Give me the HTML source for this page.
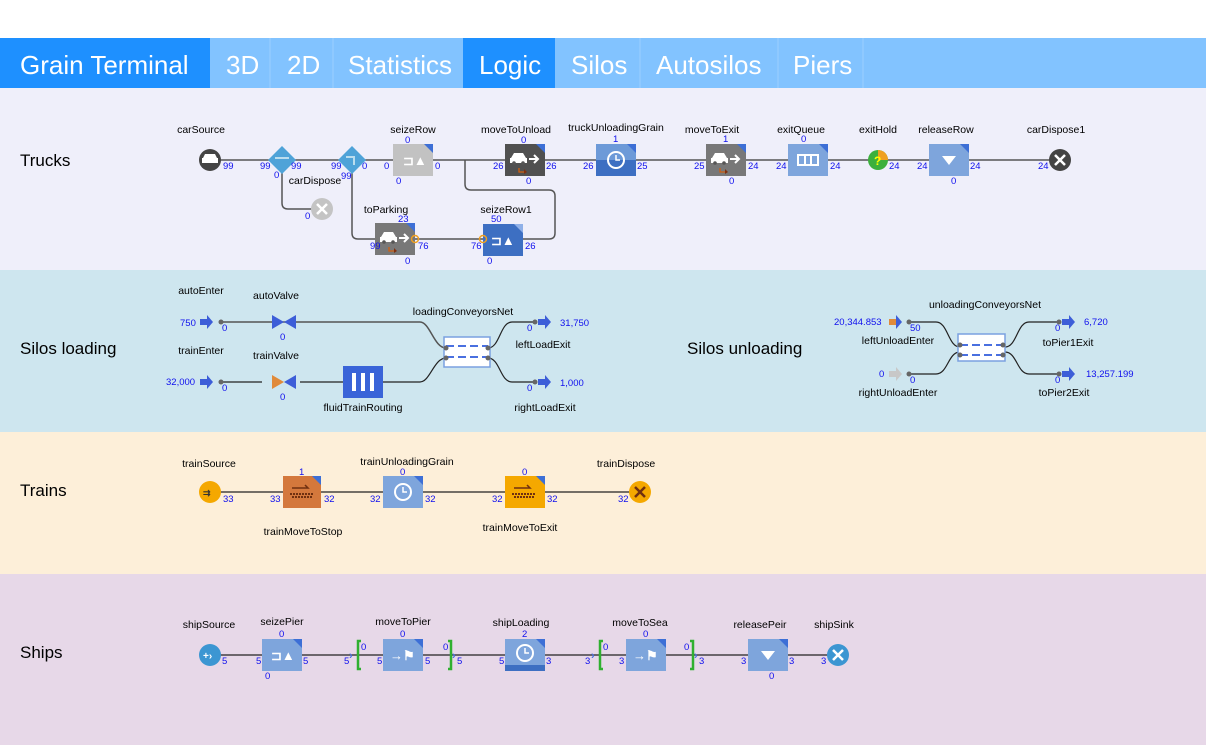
<!DOCTYPE html>
<html><head><meta charset="utf-8"><style>
html,body{margin:0;padding:0;background:#fff;}
svg{display:block;font-family:"Liberation Sans",Arial,sans-serif;}
.l{font-size:10.5px;fill:#000;text-anchor:middle}
.n{font-size:9.5px;fill:#1010ee}
.s{font-size:17px;fill:#000}
.t{font-size:26px;fill:#fff}
.w{stroke:#555;stroke-width:1.5;fill:none}
.k{stroke:#222;stroke-width:1.2;fill:none}
.p{fill:#666}
</style></head><body>
<svg width="1206" height="752" viewBox="0 0 1206 752">
<defs>
<g id="car"><path d="M6 14l3-5h9l3 5h1v5H5v-5z" fill="#fff"/><circle cx="9" cy="19" r="1.8" fill="#555"/><circle cx="18" cy="19" r="1.8" fill="#555"/><path d="M24 15h8M29 11l4 4-4 4" stroke="#fff" stroke-width="2" fill="none"/><path d="M14 24v4h6" stroke="#d06010" stroke-width="1.3" fill="none"/><path d="M19 25l3 3-3 2z" fill="#803010"/></g>
</defs>
<!-- tab bar -->
<rect x="0" y="38" width="1206" height="50" fill="#82c3ff"/>
<rect x="0" y="38" width="210" height="50" fill="#1e90ff"/>
<rect x="463" y="38" width="92" height="50" fill="#1e90ff"/>
<g stroke="#9ccfff" stroke-width="1"><line x1="270" y1="38" x2="270" y2="88"/><line x1="333" y1="38" x2="333" y2="88"/><line x1="640" y1="38" x2="640" y2="88"/><line x1="778" y1="38" x2="778" y2="88"/><line x1="863" y1="38" x2="863" y2="88"/></g>
<text class="t" x="20" y="74">Grain Terminal</text>
<text class="t" x="226" y="74">3D</text>
<text class="t" x="287" y="74">2D</text>
<text class="t" x="348" y="74">Statistics</text>
<text class="t" x="479" y="74">Logic</text>
<text class="t" x="571" y="74">Silos</text>
<text class="t" x="656" y="74">Autosilos</text>
<text class="t" x="793" y="74">Piers</text>
<!-- sections -->
<rect x="0" y="88" width="1206" height="182" fill="#efeffa"/>
<rect x="0" y="270" width="1206" height="162" fill="#cee6ef"/>
<rect x="0" y="432" width="1206" height="142" fill="#fdefd9"/>
<rect x="0" y="574" width="1206" height="171" fill="#e7d8e8"/>
<text class="s" x="20" y="166">Trucks</text>
<text class="s" x="20" y="354">Silos loading</text>
<text class="s" x="687" y="354">Silos unloading</text>
<text class="s" x="20" y="496">Trains</text>
<text class="s" x="20" y="658">Ships</text>

<!-- TRUCKS -->
<path class="w" d="M210 160H1060"/>
<path class="w" d="M282 168V203q0 6 6 6H322"/>
<path class="w" d="M352 168V233q0 6 6 6H484"/>
<path class="w" d="M523 239H549q6 0 6-6V196q0-6-6-6H471q-6 0-6-6V160"/>
<circle cx="210" cy="160" r="11" fill="#444"/><path d="M203 158l2-4h10l2 4h1v5h-16v-5z" fill="#fff"/>
<path d="M282 146l14 14-14 14-14-14z" fill="#4fa3d8"/><path d="M352 146l14 14-14 14-14-14z" fill="#4fa3d8"/>
<path d="M275 158h14" stroke="#bde" stroke-width="2"/><path d="M346 157h8v8" stroke="#bde" stroke-width="2" fill="none"/>
<circle cx="322" cy="209" r="11" fill="#c4c4c4"/><path d="M317 204l10 10M327 204l-10 10" stroke="#fff" stroke-width="2.5"/>
<rect x="393" y="144" width="40" height="32" fill="#c2c2c2"/><path d="M424 144h9v9z" fill="#3d6fd6"/><text x="403" y="165" fill="#fff" font-size="13" font-weight="bold">⊐▲</text>
<rect x="505" y="144" width="40" height="32" fill="#505050"/><path d="M536 144h9v9z" fill="#3d6fd6"/><use href="#car" x="505" y="144"/>
<rect x="596" y="144" width="40" height="32" fill="#3d6fc2"/><rect x="596" y="144" width="40" height="16" fill="#6d9ad8"/><path d="M627 144h9v9z" fill="#3d6fd6"/><circle cx="616" cy="160" r="8" fill="none" stroke="#fff" stroke-width="2"/><path d="M616 155v5h4" stroke="#fff" stroke-width="1.5" fill="none"/>
<rect x="706" y="144" width="40" height="32" fill="#787878"/><path d="M737 144h9v9z" fill="#3d6fd6"/><use href="#car" x="706" y="144"/>
<rect x="788" y="144" width="40" height="32" fill="#7ea5dc"/><path d="M819 144h9v9z" fill="#3d6fd6"/><rect x="798" y="155" width="20" height="10" fill="none" stroke="#fff" stroke-width="2"/><path d="M805 155v10M811 155v10" stroke="#fff" stroke-width="2"/>
<circle cx="878" cy="160" r="10" fill="#3cb03c"/><path d="M878 150a10 10 0 0 1 10 10h-10z" fill="#f0a020"/><text x="874" y="165" fill="#ff0" font-size="12" font-weight="bold">?</text>
<rect x="929" y="144" width="40" height="32" fill="#7ea5dc"/><path d="M960 144h9v9z" fill="#3d6fd6"/><path d="M942 156h14l-7 9z" fill="#fff"/>
<circle cx="1060" cy="160" r="11" fill="#444"/><path d="M1055 155l10 10M1065 155l-10 10" stroke="#fff" stroke-width="2.5"/>
<rect x="375" y="223" width="40" height="32" fill="#787878"/><path d="M406 223h9v9z" fill="#3d6fd6"/><use href="#car" x="375" y="223"/>
<circle cx="415" cy="239" r="3.5" fill="none" stroke="#f0a020" stroke-width="1.5"/>
<rect x="483" y="224" width="40" height="32" fill="#3d6fc2"/><path d="M514 224h9v9z" fill="#8fb0e8"/><text x="491" y="245" fill="#fff" font-size="13" font-weight="bold">⊐▲</text>
<circle cx="483" cy="239" r="3.5" fill="none" stroke="#f0a020" stroke-width="1.5"/>
<g class="l"><text x="201" y="133">carSource</text><text x="413" y="133">seizeRow</text><text x="516" y="133">moveToUnload</text><text x="616" y="131">truckUnloadingGrain</text><text x="712" y="133">moveToExit</text><text x="801" y="133">exitQueue</text><text x="878" y="133">exitHold</text><text x="946" y="133">releaseRow</text><text x="1056" y="133">carDispose1</text><text x="315" y="184">carDispose</text><text x="386" y="213">toParking</text><text x="506" y="213">seizeRow1</text></g>
<g class="n"><text x="223" y="169">99</text><text x="260" y="169">99</text><text x="291" y="169">99</text><text x="331" y="169">99</text><text x="362" y="169">0</text><text x="341" y="179">99</text><text x="274" y="178">0</text><text x="384" y="169">0</text><text x="435" y="169">0</text><text x="405" y="143">0</text><text x="396" y="184">0</text><text x="493" y="169">26</text><text x="546" y="169">26</text><text x="521" y="143">0</text><text x="526" y="184">0</text><text x="583" y="169">26</text><text x="637" y="169">25</text><text x="613" y="142">1</text><text x="694" y="169">25</text><text x="748" y="169">24</text><text x="723" y="142">1</text><text x="729" y="184">0</text><text x="776" y="169">24</text><text x="830" y="169">24</text><text x="801" y="142">0</text><text x="889" y="169">24</text><text x="917" y="169">24</text><text x="970" y="169">24</text><text x="951" y="184">0</text><text x="1038" y="169">24</text><text x="305" y="219">0</text><text x="398" y="222">23</text><text x="370" y="249">99</text><text x="418" y="249">76</text><text x="405" y="264">0</text><text x="491" y="222">50</text><text x="471" y="249">76</text><text x="525" y="249">26</text><text x="487" y="264">0</text></g>

<!-- SILOS LOADING -->
<path class="w" d="M220 322H420c10 0 14 26 26 26"/>
<path class="k" d="M220 382H262"/><path class="k" d="M300 382H420c10 0 14-24 26-24"/>
<path class="k" d="M488 348c12 0 12-26 24-26H535"/><path class="k" d="M488 358c12 0 12 24 24 24H535"/>
<path d="M272 315l12 7-12 7z" fill="#3d5ed8"/><path d="M296 315l-12 7 12 7z" fill="#3d5ed8"/>
<path d="M272 375l12 7-12 7z" fill="#e08a3a"/><path d="M296 375l-12 7 12 7z" fill="#3d5ed8"/>
<rect x="343" y="366" width="40" height="32" fill="#3a64d8"/><g fill="#fff"><rect x="352" y="373" width="4" height="18"/><rect x="361" y="373" width="4" height="18"/><rect x="370" y="373" width="4" height="18"/></g>
<rect x="444" y="337" width="46" height="30" fill="#fff" stroke="#7aa0e0" stroke-width="1.5"/><path d="M446 346H488M446 357H488" stroke="#4a70e0" stroke-width="2" stroke-dasharray="8 4"/>
<g fill="#3d5ed8"><path d="M200 319h8v6h-8zM207 315l6 7-6 7z"/><path d="M200 379h8v6h-8zM207 375l6 7-6 7z"/><path d="M538 319h8v6h-8zM545 315l6 7-6 7z"/><path d="M538 379h8v6h-8zM545 375l6 7-6 7z"/></g>
<g class="p"><circle cx="221" cy="322" r="2.5"/><circle cx="221" cy="382" r="2.5"/><circle cx="446" cy="348" r="2.5"/><circle cx="446" cy="358" r="2.5"/><circle cx="488" cy="348" r="2.5"/><circle cx="488" cy="358" r="2.5"/><circle cx="535" cy="322" r="2.5"/><circle cx="535" cy="382" r="2.5"/></g>
<g class="l"><text x="201" y="294">autoEnter</text><text x="276" y="299">autoValve</text><text x="463" y="315">loadingConveyorsNet</text><text x="201" y="354">trainEnter</text><text x="276" y="359">trainValve</text><text x="363" y="411">fluidTrainRouting</text><text x="543" y="348">leftLoadExit</text><text x="545" y="411">rightLoadExit</text></g>
<g class="n"><text x="180" y="326">750</text><text x="222" y="331">0</text><text x="280" y="340">0</text><text x="166" y="385">32,000</text><text x="222" y="391">0</text><text x="280" y="400">0</text><text x="527" y="331">0</text><text x="560" y="326">31,750</text><text x="527" y="391">0</text><text x="560" y="386">1,000</text></g>

<!-- SILOS UNLOADING -->
<path class="k" d="M909 322H936c12 0 12 25 24 25"/><path class="k" d="M909 374H936c12 0 12-22 24-22"/>
<path class="k" d="M1005 347c12 0 12-25 24-25H1058"/><path class="k" d="M1005 352c12 0 12 22 24 22H1058"/>
<rect x="958" y="334" width="47" height="27" fill="#fff" stroke="#7aa0e0" stroke-width="1.5"/><path d="M960 345H1003M960 355H1003" stroke="#4a70e0" stroke-width="2" stroke-dasharray="8 4"/>
<path d="M889 319h8v6h-8z" fill="#e08a3a"/><path d="M896 315l6 7-6 7z" fill="#3d5ed8"/>
<path d="M889 371h8v6h-8zM896 367l6 7-6 7z" fill="#c8c8c8"/>
<g fill="#3d5ed8"><path d="M1062 319h8v6h-8zM1069 315l6 7-6 7z"/><path d="M1062 371h8v6h-8zM1069 367l6 7-6 7z"/></g>
<g class="p"><circle cx="909" cy="322" r="2.5"/><circle cx="909" cy="374" r="2.5"/><circle cx="960" cy="345" r="2.5"/><circle cx="960" cy="355" r="2.5"/><circle cx="1003" cy="345" r="2.5"/><circle cx="1003" cy="355" r="2.5"/><circle cx="1059" cy="322" r="2.5"/><circle cx="1059" cy="374" r="2.5"/></g>
<g class="l"><text x="985" y="308">unloadingConveyorsNet</text><text x="898" y="344">leftUnloadEnter</text><text x="1068" y="346">toPier1Exit</text><text x="898" y="396">rightUnloadEnter</text><text x="1064" y="396">toPier2Exit</text></g>
<g class="n"><text x="834" y="325">20,344.853</text><text x="910" y="331">50</text><text x="879" y="377">0</text><text x="910" y="383">0</text><text x="1055" y="331">0</text><text x="1084" y="325">6,720</text><text x="1055" y="383">0</text><text x="1086" y="377">13,257.199</text></g>

<!-- TRAINS -->
<path class="k" d="M210 492H640"/>
<circle cx="210" cy="492" r="11" fill="#f5a800"/><text x="203" y="496" fill="#333" font-size="9" font-weight="bold">⇉</text>
<rect x="283" y="476" width="38" height="32" fill="#d4783c"/><path d="M312 476h9v9z" fill="#3d6fd6"/><path d="M290 494h24M292 497h20" stroke="#703010" stroke-width="2" stroke-dasharray="2 1"/><path d="M292 488h16l-3-3" stroke="#703010" stroke-width="1.5" fill="none"/>
<rect x="383" y="476" width="40" height="32" fill="#7ea5dc"/><path d="M414 476h9v9z" fill="#3d6fd6"/><circle cx="403" cy="492" r="8" fill="none" stroke="#fff" stroke-width="2"/><path d="M403 487v5h4" stroke="#fff" stroke-width="1.5" fill="none"/>
<rect x="505" y="476" width="40" height="32" fill="#f5a800"/><path d="M536 476h9v9z" fill="#3d6fd6"/><path d="M512 494h24M514 497h20" stroke="#703010" stroke-width="2" stroke-dasharray="2 1"/><path d="M514 488h16l-3-3" stroke="#703010" stroke-width="1.5" fill="none"/>
<circle cx="640" cy="492" r="11" fill="#f5a800"/><path d="M635 487l10 10M645 487l-10 10" stroke="#703010" stroke-width="2.5"/>
<g class="l"><text x="209" y="467">trainSource</text><text x="407" y="465">trainUnloadingGrain</text><text x="626" y="467">trainDispose</text><text x="303" y="535">trainMoveToStop</text><text x="520" y="531">trainMoveToExit</text></g>
<g class="n"><text x="223" y="502">33</text><text x="270" y="502">33</text><text x="324" y="502">32</text><text x="299" y="475">1</text><text x="370" y="502">32</text><text x="425" y="502">32</text><text x="400" y="475">0</text><text x="492" y="502">32</text><text x="547" y="502">32</text><text x="522" y="475">0</text><text x="618" y="502">32</text></g>

<!-- SHIPS -->
<path class="k" d="M210 655H838"/>
<circle cx="210" cy="655" r="11" fill="#3c96d2"/><text x="203" y="659" fill="#fff" font-size="10" font-weight="bold">+›</text>
<rect x="262" y="639" width="40" height="32" fill="#7ea5dc"/><path d="M293 639h9v9z" fill="#3d6fd6"/><text x="271" y="660" fill="#fff" font-size="13" font-weight="bold">⊐▲</text>
<rect x="383" y="639" width="40" height="32" fill="#7ea5dc"/><path d="M414 639h9v9z" fill="#3d6fd6"/><text x="390" y="660" fill="#fff" font-size="13" font-weight="bold">→⚑</text>
<rect x="505" y="639" width="40" height="32" fill="#7ea5dc"/><rect x="505" y="665" width="40" height="6" fill="#3d6fc2"/><path d="M536 639h9v9z" fill="#3d6fd6"/><circle cx="525" cy="653" r="8" fill="none" stroke="#fff" stroke-width="2"/><path d="M525 648v5h4" stroke="#fff" stroke-width="1.5" fill="none"/>
<rect x="626" y="639" width="40" height="32" fill="#7ea5dc"/><path d="M657 639h9v9z" fill="#3d6fd6"/><text x="633" y="660" fill="#fff" font-size="13" font-weight="bold">→⚑</text>
<rect x="748" y="639" width="40" height="32" fill="#7ea5dc"/><path d="M779 639h9v9z" fill="#3d6fd6"/><path d="M761 651h14l-7 9z" fill="#fff"/>
<circle cx="838" cy="655" r="11" fill="#3c96d2"/><path d="M833 650l10 10M843 650l-10 10" stroke="#fff" stroke-width="2.5"/>
<g fill="none" stroke="#30b030" stroke-width="2.5"><path d="M361 641h-3v28h3"/><path d="M448 641h3v28h-3"/><path d="M603 641h-3v28h3"/><path d="M690 641h3v28h-3"/></g>
<g fill="#4a70e0" font-size="11" font-weight="bold"><text x="349" y="659">›</text><text x="452" y="659">›</text><text x="591" y="659">›</text><text x="694" y="659">›</text></g>
<g class="l"><text x="209" y="628">shipSource</text><text x="282" y="625">seizePier</text><text x="403" y="625">moveToPier</text><text x="521" y="626">shipLoading</text><text x="640" y="626">moveToSea</text><text x="760" y="628">releasePeir</text><text x="834" y="628">shipSink</text></g>
<g class="n"><text x="222" y="664">5</text><text x="256" y="664">5</text><text x="303" y="664">5</text><text x="279" y="637">0</text><text x="265" y="679">0</text><text x="344" y="664">5</text><text x="361" y="650">0</text><text x="377" y="664">5</text><text x="425" y="664">5</text><text x="400" y="637">0</text><text x="443" y="650">0</text><text x="457" y="664">5</text><text x="499" y="664">5</text><text x="546" y="664">3</text><text x="522" y="637">2</text><text x="585" y="664">3</text><text x="603" y="650">0</text><text x="619" y="664">3</text><text x="643" y="637">0</text><text x="684" y="650">0</text><text x="699" y="664">3</text><text x="741" y="664">3</text><text x="789" y="664">3</text><text x="769" y="679">0</text><text x="821" y="664">3</text></g>
</svg>
</body></html>
